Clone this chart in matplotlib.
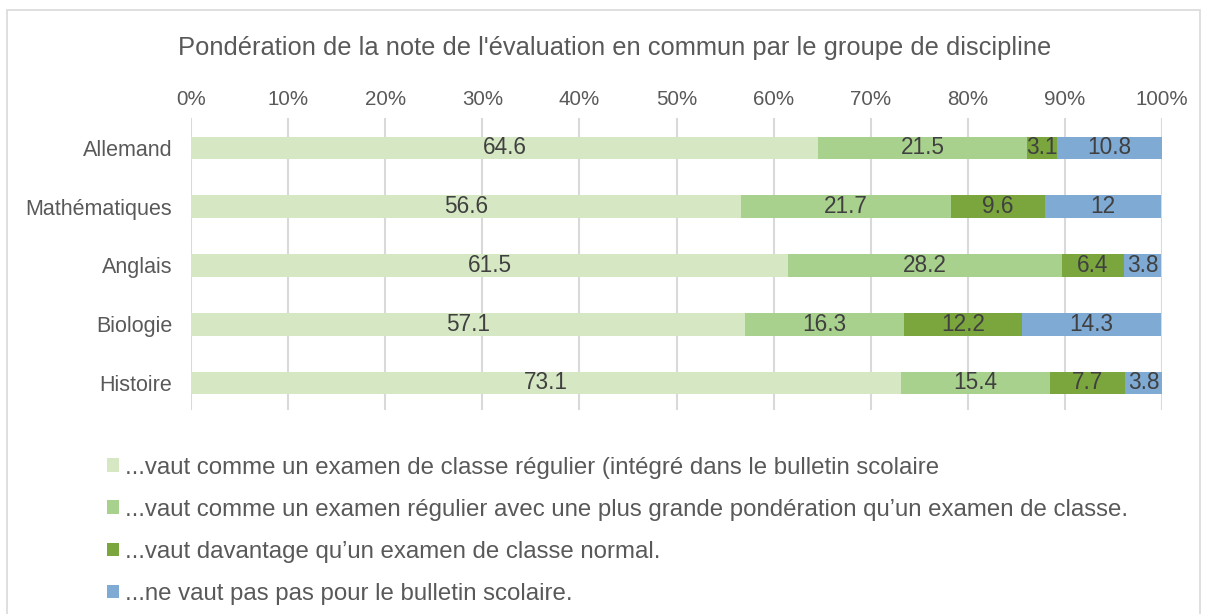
import matplotlib
matplotlib.use("Agg")
import matplotlib.pyplot as plt
from matplotlib.patches import Rectangle, Patch
import numpy as np

plt.rcParams['font.family'] = ['Liberation Sans', 'DejaVu Sans']

categories = ["Allemand", "Mathématiques", "Anglais", "Biologie", "Histoire"]
series_labels = [
    "...vaut comme un examen de classe régulier (intégré dans le bulletin scolaire",
    "...vaut comme un examen régulier avec une plus grande pondération qu’un examen de classe.",
    "...vaut davantage qu’un examen de classe normal.",
    "...ne vaut pas pas pour le bulletin scolaire.",
]
s1 = [64.6, 56.6, 61.5, 57.1, 73.1]
s2 = [21.5, 21.7, 28.2, 16.3, 15.4]
s3 = [3.1, 9.6, 6.4, 12.2, 7.7]
s4 = [10.8, 12, 3.8, 14.3, 3.8]
xticks = [0, 10, 20, 30, 40, 50, 60, 70, 80, 90, 100]
title = "Pondération de la note de l'évaluation en commun par le groupe de discipline"

colors = ["#D5E8C3", "#A9D18E", "#7AA63D", "#7FAAD4"]
text_grey = "#595959"
label_grey = "#404040"

fig = plt.figure(figsize=(12.05, 6.14), dpi=100)
fig.patches.append(Rectangle((7/1205, -0.01), (1200-7)/1205, 1 - 10/614 + 0.01,
                             transform=fig.transFigure, fill=False,
                             edgecolor="#D9D9D9", linewidth=1.2))

ax = fig.add_axes([191/1205, 1 - 410/614, (1162-191)/1205, (410-118)/614])
y = np.arange(len(categories))
left = np.zeros(len(categories))
for vals, col, lab in zip([s1, s2, s3, s4], colors, series_labels):
    vals = np.array(vals, dtype=float)
    ax.barh(y, vals, left=left, height=0.385, color=col, label=lab, zorder=3)
    for yi, l, v in zip(y, left, vals):
        ax.text(l + v/2, yi, f"{v:g}", ha="center", va="center", fontsize=16.3,
                color=label_grey, zorder=4)
    left += vals

ax.set_xlim(0, 100)
ax.set_ylim(4.46, -0.51)
ax.set_yticks(y)
ax.set_yticklabels(categories, fontsize=15.5, color=text_grey)
ax.set_xticks(xticks)
ax.set_xticklabels([f"{t}%" for t in xticks], fontsize=14.8, color=text_grey)
ax.xaxis.tick_top()
ax.tick_params(axis="both", length=0)
ax.tick_params(axis="x", pad=6.5)
ax.tick_params(axis="y", pad=13.5)
ax.grid(axis="x", color="#D9D9D9", linewidth=1.5, zorder=0)
for sp in ax.spines.values():
    sp.set_visible(False)

fig.text(615/1205, 1 - 48/614, title, ha="center", va="center", fontsize=18.4, color=text_grey)

handles = [Patch(facecolor=c, edgecolor="none") for c in colors]
fig.legend(handles, series_labels, loc="upper left",
           bbox_to_anchor=(97/1205, 1 - 447/614), frameon=False,
           fontsize=17.3, labelcolor=text_grey, handlelength=0.5, handleheight=0.5,
           handletextpad=0.25, labelspacing=0.84, borderaxespad=0)

fig.savefig("out.png", dpi=100)
